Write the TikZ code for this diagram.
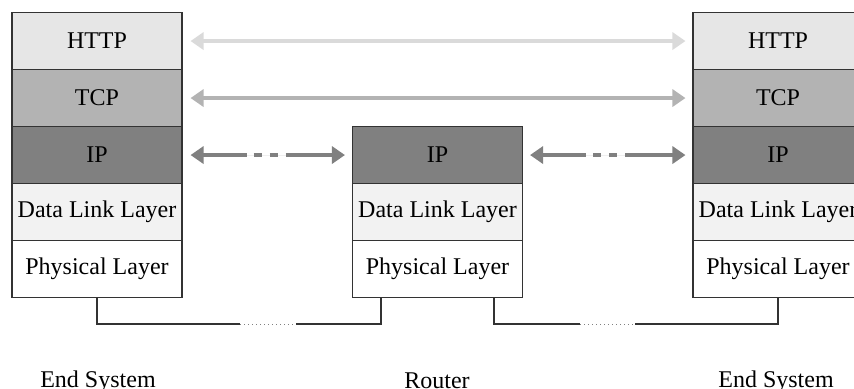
\documentclass[tikz,border=0pt]{standalone}
\usepackage{fontspec}
\setmainfont{Liberation Serif}
\usetikzlibrary{arrows.meta}
\definecolor{httpc}{HTML}{E6E6E6}
\definecolor{tcpc}{HTML}{B3B3B3}
\definecolor{ipc}{HTML}{808080}
\definecolor{dlc}{HTML}{F2F2F2}
\definecolor{edgec}{HTML}{333333}
\begin{document}
\begin{tikzpicture}[x=0.5pt,y=-0.5pt,
  layer/.style={draw=edgec, line width=0.55pt, minimum width=85pt,
    minimum height=28.5pt, inner sep=0pt, anchor=north,
    font=\fontsize{12}{14}\selectfont},
  peer/.style={line width=1.7pt,
    arrows={Triangle[length=6.5pt,width=8.5pt]-Triangle[length=6.5pt,width=8.5pt]}},
  ippeer/.style={peer, draw=ipc, fill=ipc,
    dash pattern=on 22pt off 3.5pt on 4pt off 4pt on 4pt off 4pt on 60pt},
  wire/.style={draw=edgec, line width=0.6pt},
  gap/.style={draw=gray, line width=0.5pt, dash pattern=on 0.5pt off 1.5pt},
  caption/.style={anchor=base, font=\fontsize{12}{14}\selectfont}]
  \useasboundingbox (0,0) rectangle (854,389);
  \clip (0,0) rectangle (854,389);

  % left end system
  \node[layer, fill=httpc] (lhttp) at (97,12)  {HTTP};
  \node[layer, fill=tcpc]  (ltcp)  at (97,69)  {TCP};
  \node[layer, fill=ipc]   (lip)   at (97,126) {IP};
  \node[layer, fill=dlc]   (ldl)   at (97,183) {Data Link Layer};
  \node[layer, fill=white] (lphy)  at (97,240) {Physical Layer};

  % router
  \node[layer, fill=ipc]   (oip)   at (437.5,126) {IP};
  \node[layer, fill=dlc]   (odl)   at (437.5,183) {Data Link Layer};
  \node[layer, fill=white] (ophy)  at (437.5,240) {Physical Layer};

  % right end system
  \node[layer, fill=httpc] (rhttp) at (778,12)  {HTTP};
  \node[layer, fill=tcpc]  (rtcp)  at (778,69)  {TCP};
  \node[layer, fill=ipc]   (rip)   at (778,126) {IP};
  \node[layer, fill=dlc]   (rdl)   at (778,183) {Data Link Layer};
  \node[layer, fill=white] (rphy)  at (778,240) {Physical Layer};

  % peer-to-peer links
  \draw[peer, draw=httpc!95!black, fill=httpc!95!black]
    ([xshift=4pt]lhttp.east) -- ([xshift=-3.5pt]rhttp.west);
  \draw[peer, draw=tcpc, fill=tcpc]
    ([xshift=4pt]ltcp.east) -- ([xshift=-3.5pt]rtcp.west);
  \draw[ippeer] ([xshift=4pt]lip.east) -- ([xshift=-3.5pt]oip.west);
  \draw[ippeer] ([xshift=3.5pt]oip.east) -- ([xshift=-3.5pt]rip.west);

  % physical links
  \coordinate (g1a) at (240,324);
  \coordinate (g1b) at (296,324);
  \coordinate (g2a) at (580,324);
  \coordinate (g2b) at (635,324);
  \draw[wire] (lphy.south) |- (g1a);
  \draw[gap]  (g1a) -- (g1b);
  \draw[wire] (g1b) -| ([xshift=14.5pt]ophy.south west);
  \draw[wire] ([xshift=-14.5pt]ophy.south east) |- (g2a);
  \draw[gap]  (g2a) -- (g2b);
  \draw[wire] (g2b) -| (rphy.south);

  % captions
  \node[caption] (lcap) at (98,387)  {End System};
  \node[caption] (ocap) at (437,388) {Router};
  \node[caption] (rcap) at (776,387) {End System};
\end{tikzpicture}
\end{document}
